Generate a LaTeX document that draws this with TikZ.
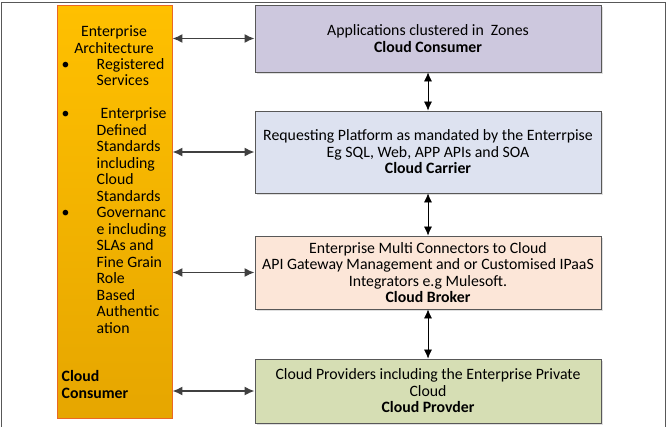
\documentclass[tikz,border=0pt]{standalone}
\usepackage{fontspec}
\setmainfont{Carlito}
\usepackage{tikz}
\usetikzlibrary{positioning,arrows.meta,shadows}
\definecolor{EAOrange}{RGB}{255,192,0}
\definecolor{EAOrangeDark}{RGB}{230,166,0}
\definecolor{EAEdge}{RGB}{234,104,36}
\definecolor{ZoneFill}{RGB}{205,200,222}
\definecolor{CarrierFill}{RGB}{221,226,240}
\definecolor{BrokerFill}{RGB}{252,230,216}
\definecolor{ProviderFill}{RGB}{214,222,180}
\definecolor{EdgeGray}{RGB}{88,88,88}

\begin{document}
\begin{tikzpicture}[
        x=1pt, y=-1pt,
        font=\fontsize{15.8}{16.5}\selectfont,
        % Style for the layer boxes on the right
        layerbox/.style={
            rectangle,
            draw=EdgeGray,
            line width=0.8pt,
            minimum width=346pt,
            inner sep=0pt,
            align=center,
            drop shadow={shadow xshift=1.5pt, shadow yshift=-1.5pt, opacity=0.25}
        },
        % Style for the enterprise architecture column
        eabox/.style={
            rectangle,
            draw=EAEdge,
            line width=0.8pt,
            top color=EAOrange,
            bottom color=EAOrangeDark,
            minimum width=115pt,
            minimum height=413pt,
            inner sep=0pt
        },
        % Style for the arrows from the column
        linkarrow/.style={
            {Latex[length=10pt,width=9pt]}-{Latex[length=10pt,width=9pt]},
            draw=black!75,
            line width=1.7pt
        },
        % Style for the arrows between layers
        stackarrow/.style={
            {Latex[length=9pt,width=8pt]}-{Latex[length=9pt,width=8pt]},
            draw=black,
            line width=0.7pt
        }
    ]

        \useasboundingbox (0,0) rectangle (671,426);

        % --- OUTER FRAME ---
        \draw[EdgeGray, line width=0.8pt] (1,430) -- (1,2) -- (665,2) -- (665,430);

        % --- ENTERPRISE ARCHITECTURE COLUMN ---
        \node[eabox] (ea) at (114.5,211.5) {};
        \node[align=center, inner sep=0pt] (eatitle) at (114,39.5) {Enterprise\\Architecture};
        \node[align=left, inner sep=0pt, anchor=north west] (ealist) at (61.5,58)
            {\makebox[35pt][l]{\textbullet}Registered\\
             \hspace*{35pt}Services\\
             ~\\
             \makebox[35pt][l]{\textbullet}\hspace*{4pt}Enterprise\\
             \hspace*{35pt}Defined\\
             \hspace*{35pt}Standards\\
             \hspace*{35pt}including\\
             \hspace*{35pt}Cloud\\
             \hspace*{35pt}Standards\\
             \makebox[35pt][l]{\textbullet}Governanc\\
             \hspace*{35pt}e including\\
             \hspace*{35pt}SLAs and\\
             \hspace*{35pt}Fine Grain\\
             \hspace*{35pt}Role\\
             \hspace*{35pt}Based\\
             \hspace*{35pt}Authentic\\
             \hspace*{35pt}ation};
        \node[align=left, inner sep=0pt, anchor=west, font=\fontsize{15.8}{16.5}\selectfont\bfseries] (eaname) at (61.5,384.5) {Cloud\\Consumer};

        % --- CLOUD LAYERS ---
        \node[layerbox, fill=ZoneFill, minimum height=67pt] (zone) at (428,38.5)
            {Applications clustered in\ \ Zones\\\textbf{Cloud Consumer}};
        \node[layerbox, fill=CarrierFill, minimum height=82pt] (carrier) at (428,152)
            {Requesting Platform as mandated by the Enterrpise\\Eg SQL, Web, APP APIs and SOA\\\textbf{Cloud Carrier}};
        \node[layerbox, fill=BrokerFill, minimum height=73pt] (broker) at (428,272.5)
            {Enterprise Multi Connectors to Cloud\\API Gateway Management and or Customised IPaaS\\Integrators e.g Mulesoft.\\\textbf{Cloud Broker}};
        \node[layerbox, fill=ProviderFill, minimum height=64pt] (provider) at (428,391)
            {Cloud Providers including the Enterprise Private\\Cloud\\\textbf{Cloud Provder}};

        % --- ARROWS ---
        \foreach \layer in {zone, carrier, broker, provider} {
            \draw[linkarrow] (ea.east |- \layer.west) -- (\layer.west);
        }
        \draw[stackarrow] (zone.south) -- (carrier.north);
        \draw[stackarrow] (carrier.south) -- (broker.north);
        \draw[stackarrow] (broker.south) -- (provider.north);

    \end{tikzpicture}
\end{document}
